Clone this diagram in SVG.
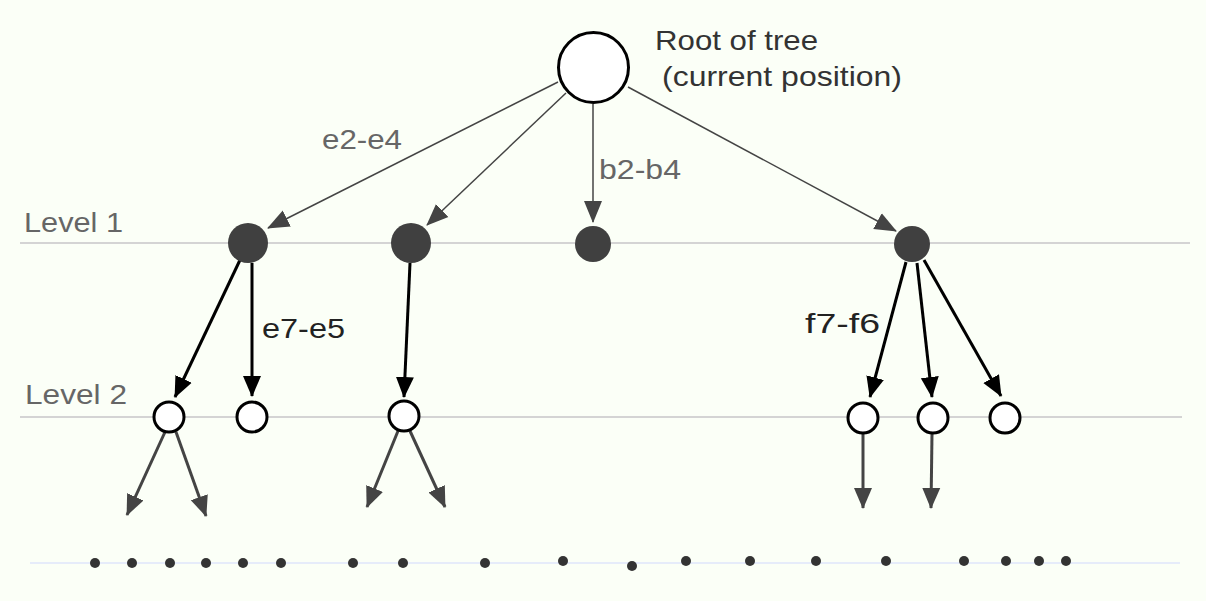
<svg xmlns="http://www.w3.org/2000/svg" width="1206" height="601" viewBox="0 0 1206 601">
<defs>
<marker id="aThin" markerUnits="userSpaceOnUse" markerWidth="22" markerHeight="20" viewBox="0 0 22 20" refX="21" refY="10" orient="auto"><path d="M0,1 L22,10 L0,19 Z" fill="#444"/></marker>
<marker id="aBlack" markerUnits="userSpaceOnUse" markerWidth="21" markerHeight="20" viewBox="0 0 21 20" refX="20" refY="10" orient="auto"><path d="M0,1 L21,10 L0,19 Z" fill="#000"/></marker>
<marker id="aGrey" markerUnits="userSpaceOnUse" markerWidth="21" markerHeight="20" viewBox="0 0 21 20" refX="20" refY="10" orient="auto"><path d="M0,1 L21,10 L0,19 Z" fill="#444"/></marker>
</defs>
<style>
.lvl{stroke:#d4d4d4;stroke-width:2;fill:none}
.base{stroke:#e6ecfa;stroke-width:2;fill:none}
.thin{stroke:#444;stroke-width:1.5;fill:none;marker-end:url(#aThin)}
.thick{stroke:#000;stroke-width:3;fill:none;marker-end:url(#aBlack)}
.grey{stroke:#444;stroke-width:3;fill:none;marker-end:url(#aGrey)}
.full{fill:#404040;stroke:none}
.open{fill:#fff;stroke:#000;stroke-width:3}
.dot{fill:#333}
text{font-family:"Liberation Sans",Arial,sans-serif;font-size:28px}
.g{fill:#666}
.k{fill:#222}
</style>
<rect width="1206" height="601" fill="#fbfff7"/>
<g id="levels">
<line class="lvl" x1="20" y1="243" x2="1190" y2="243"/>
<line class="lvl" x1="20" y1="417" x2="1182" y2="417"/>
<line class="base" x1="30" y1="563" x2="1180" y2="563"/>
<text class="g" x="24" y="232" textLength="99" lengthAdjust="spacingAndGlyphs">Level 1</text>
<text class="g" x="25" y="404" textLength="102" lengthAdjust="spacingAndGlyphs">Level 2</text>
</g>
<g id="connectors">
<line class="thin" x1="558" y1="82" x2="268" y2="228"/>
<line class="thin" x1="566" y1="93" x2="427" y2="225"/>
<line class="thin" x1="593" y1="104" x2="593" y2="222"/>
<line class="thin" x1="628" y1="87" x2="896" y2="231"/>
<line class="thick" x1="240" y1="260" x2="175" y2="397"/>
<line class="thick" x1="252" y1="263" x2="252" y2="396"/>
<line class="thick" x1="410" y1="263" x2="404" y2="397"/>
<line class="thick" x1="906" y1="262" x2="870" y2="397"/>
<line class="thick" x1="917" y1="263" x2="932" y2="397"/>
<line class="thick" x1="924" y1="260" x2="1001" y2="396"/>
<line class="grey" x1="165" y1="432" x2="127" y2="515"/>
<line class="grey" x1="176" y1="432" x2="206" y2="516"/>
<line class="grey" x1="398" y1="431" x2="367" y2="507"/>
<line class="grey" x1="410" y1="431" x2="445" y2="507"/>
<line class="grey" x1="863" y1="434" x2="863" y2="508"/>
<line class="grey" x1="932" y1="434" x2="931" y2="508"/>
<text class="g" x="322" y="149" textLength="80" lengthAdjust="spacingAndGlyphs">e2-e4</text>
<text class="g" x="599" y="179" textLength="82" lengthAdjust="spacingAndGlyphs">b2-b4</text>
<text class="k" x="262" y="338" textLength="83" lengthAdjust="spacingAndGlyphs">e7-e5</text>
<text class="k" x="805" y="333" textLength="75" lengthAdjust="spacingAndGlyphs">f7-f6</text>
</g>
<g id="root">
<circle class="open" cx="593.5" cy="67.5" r="35"/>
<text fill="#333" x="655" y="50" textLength="163" lengthAdjust="spacingAndGlyphs">Root of tree</text>
<text fill="#333" x="662" y="86" textLength="240" lengthAdjust="spacingAndGlyphs">(current position)</text>
</g>
<g id="level1">
<circle class="full" cx="248" cy="243" r="20"/>
<circle class="full" cx="411" cy="243" r="20"/>
<circle class="full" cx="593" cy="244" r="18"/>
<circle class="full" cx="912" cy="244" r="18"/>
</g>
<g id="level2">
<circle class="open" cx="169" cy="417" r="15"/>
<circle class="open" cx="252" cy="417" r="15"/>
<circle class="open" cx="404" cy="416" r="15"/>
<circle class="open" cx="863" cy="418" r="15"/>
<circle class="open" cx="933" cy="418" r="15"/>
<circle class="open" cx="1005" cy="418" r="15"/>
</g>
<g id="leaves">
<circle class="dot" cx="95" cy="563" r="5"/>
<circle class="dot" cx="132" cy="563" r="5"/>
<circle class="dot" cx="170" cy="563" r="5"/>
<circle class="dot" cx="206" cy="563" r="5"/>
<circle class="dot" cx="243" cy="563" r="5"/>
<circle class="dot" cx="281" cy="563" r="5"/>
<circle class="dot" cx="353" cy="563" r="5"/>
<circle class="dot" cx="403" cy="563" r="5"/>
<circle class="dot" cx="485" cy="563" r="5"/>
<circle class="dot" cx="563" cy="561" r="5"/>
<circle class="dot" cx="632" cy="566" r="5"/>
<circle class="dot" cx="686" cy="561" r="5"/>
<circle class="dot" cx="750" cy="561" r="5"/>
<circle class="dot" cx="816" cy="561" r="5"/>
<circle class="dot" cx="886" cy="561" r="5"/>
<circle class="dot" cx="964" cy="561" r="5"/>
<circle class="dot" cx="1006" cy="561" r="5"/>
<circle class="dot" cx="1039" cy="561" r="5"/>
<circle class="dot" cx="1066" cy="561" r="5"/>
</g>
</svg>
